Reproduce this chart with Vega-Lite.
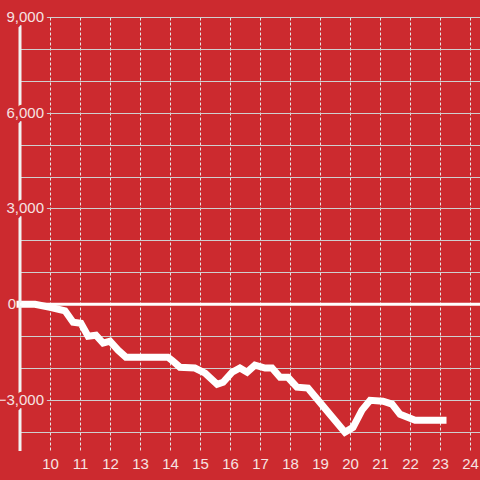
{
  "$schema": "https://vega.github.io/schema/vega-lite/v6.json",
  "width": 460,
  "height": 434,
  "autosize": {"type": "none"},
  "padding": {"left": 20, "top": 17, "right": 0, "bottom": 29},
  "background": "#cc2a2f",
  "config": {
    "view": {"stroke": null},
    "font": "Liberation Sans",
    "axisX": {
      "domain": false, "ticks": false, "grid": true,
      "gridColor": "#e6e6e6", "gridDash": [3, 2], "gridWidth": 1,
      "tickCount": 15, "labelOverlap": false,
      "labelExpr": "datum.value < 9.5 ? '' : datum.label",
      "labelColor": "#f6e2e2", "labelFontSize": 15, "labelPadding": 5,
      "labelFont": "Liberation Sans"
    },
    "axisY": {
      "domain": false, "ticks": false, "labels": false, "grid": true,
      "gridColor": "#cfcfcf", "gridWidth": 1.2, "tickCount": 14
    }
  },
  "datasets": {
    "series": [
      {"hour": 9.0, "value": 0},
      {"hour": 9.5, "value": 0},
      {"hour": 10.0, "value": -95},
      {"hour": 10.5, "value": -205},
      {"hour": 10.77, "value": -565},
      {"hour": 11.03, "value": -595},
      {"hour": 11.27, "value": -1000},
      {"hour": 11.53, "value": -970},
      {"hour": 11.77, "value": -1220},
      {"hour": 12.0, "value": -1160},
      {"hour": 12.27, "value": -1440},
      {"hour": 12.53, "value": -1660},
      {"hour": 13.93, "value": -1660},
      {"hour": 14.07, "value": -1760},
      {"hour": 14.33, "value": -1975},
      {"hour": 14.83, "value": -2000},
      {"hour": 15.17, "value": -2160},
      {"hour": 15.57, "value": -2510},
      {"hour": 15.77, "value": -2445},
      {"hour": 16.07, "value": -2130},
      {"hour": 16.33, "value": -2000},
      {"hour": 16.57, "value": -2130},
      {"hour": 16.83, "value": -1910},
      {"hour": 17.17, "value": -2000},
      {"hour": 17.4, "value": -2000},
      {"hour": 17.67, "value": -2290},
      {"hour": 17.93, "value": -2290},
      {"hour": 18.23, "value": -2600},
      {"hour": 18.6, "value": -2630},
      {"hour": 19.83, "value": -4010},
      {"hour": 20.1, "value": -3860},
      {"hour": 20.4, "value": -3320},
      {"hour": 20.67, "value": -3010},
      {"hour": 21.1, "value": -3040},
      {"hour": 21.4, "value": -3130},
      {"hour": 21.67, "value": -3450},
      {"hour": 22.17, "value": -3640},
      {"hour": 23.1, "value": -3640}
    ],
    "ylabels": [
      {"v": 9000}, {"v": 6000}, {"v": 3000}, {"v": -3000}
    ],
    "zerolabel": [
      {"v": 0}
    ]
  },
  "layer": [
    {
      "data": {"name": "series"},
      "mark": {"type": "line", "color": "#ffffff", "strokeWidth": 7, "strokeCap": "square", "strokeJoin": "miter"},
      "encoding": {
        "x": {
          "field": "hour", "type": "quantitative", "title": null,
          "scale": {"domain": [9, 24.333], "nice": false, "zero": false}
        },
        "y": {
          "field": "value", "type": "quantitative", "title": null,
          "scale": {"domain": [-4600, 9000], "nice": false, "zero": false}
        }
      }
    },
    {
      "data": {"values": [{}]},
      "mark": {"type": "rule", "color": "#f2f2f2", "strokeWidth": 3},
      "encoding": {
        "x": {"datum": 9, "type": "quantitative", "title": null},
        "y": {"datum": 8780, "type": "quantitative", "title": null},
        "y2": {"datum": -4600}
      }
    },
    {
      "data": {"values": [{}]},
      "mark": {"type": "rule", "color": "#ffffff", "strokeWidth": 3},
      "encoding": {
        "y": {"datum": 0, "type": "quantitative", "title": null}
      }
    },
    {
      "data": {"name": "ylabels"},
      "mark": {"type": "text", "align": "right", "baseline": "middle", "dx": 24, "fontSize": 15, "font": "Liberation Sans", "fill": "#cc2a2f", "stroke": "#cc2a2f", "strokeWidth": 7, "strokeJoin": "round"},
      "encoding": {
        "x": {"datum": 9, "type": "quantitative", "title": null},
        "y": {"field": "v", "type": "quantitative", "title": null},
        "text": {"field": "v", "type": "quantitative", "format": ","}
      }
    },
    {
      "data": {"name": "ylabels"},
      "mark": {"type": "text", "align": "right", "baseline": "middle", "dx": 24, "fontSize": 15, "font": "Liberation Sans", "fill": "#f6e2e2"},
      "encoding": {
        "x": {"datum": 9, "type": "quantitative", "title": null},
        "y": {"field": "v", "type": "quantitative", "title": null},
        "text": {"field": "v", "type": "quantitative", "format": ","}
      }
    },
    {
      "data": {"name": "zerolabel"},
      "mark": {"type": "text", "align": "right", "baseline": "middle", "dx": -4, "fontSize": 15, "font": "Liberation Sans", "fill": "#f6e2e2"},
      "encoding": {
        "x": {"datum": 9, "type": "quantitative", "title": null},
        "y": {"field": "v", "type": "quantitative", "title": null},
        "text": {"field": "v", "type": "quantitative", "format": ","}
      }
    }
  ]
}
